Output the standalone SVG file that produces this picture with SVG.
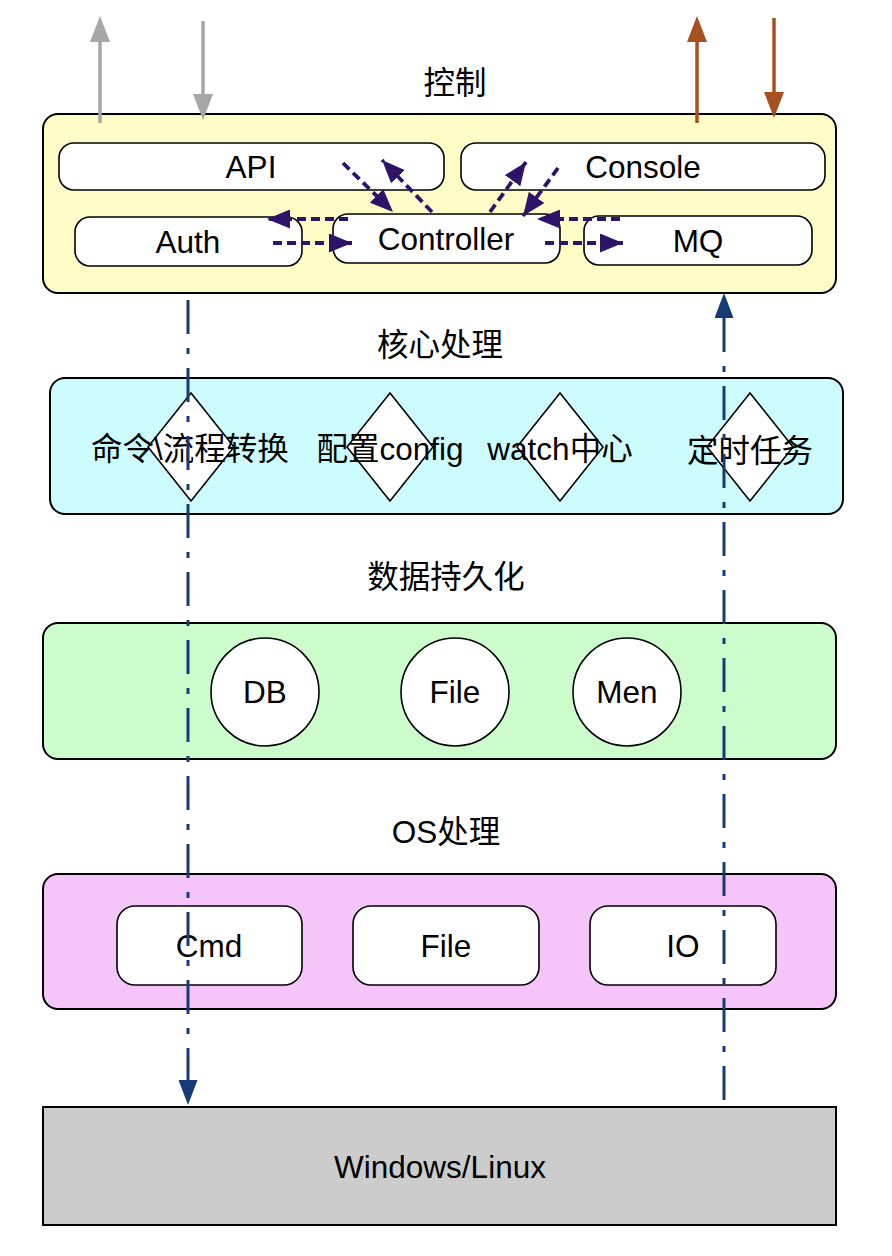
<svg xmlns="http://www.w3.org/2000/svg" width="892" height="1256" viewBox="0 0 892 1256">
<style>
text{font-family:"Liberation Sans","Noto Sans CJK SC",sans-serif;font-size:31.5px;fill:#000;text-anchor:middle}
.box{stroke:#000;stroke-width:2}
.node{fill:#fff;stroke:#000;stroke-width:1.6}
.pur{stroke:#2d1468;stroke-width:3.8;stroke-dasharray:9 5;fill:none}
.blue{stroke:#153a75;stroke-width:3;stroke-dasharray:34 14 6 14;fill:none}
</style>
<defs>
<marker id="mGray" markerUnits="userSpaceOnUse" markerWidth="26" markerHeight="20" refX="0" refY="10" orient="auto"><path d="M0,0 L26,10 L0,20 z" fill="#a6a6a6"/></marker>
<marker id="mBrown" markerUnits="userSpaceOnUse" markerWidth="26" markerHeight="20" refX="0" refY="10" orient="auto"><path d="M0,0 L26,10 L0,20 z" fill="#a8501f"/></marker>
<marker id="mPur" markerUnits="userSpaceOnUse" markerWidth="23" markerHeight="19" refX="23" refY="9.5" orient="auto"><path d="M0,0 L23,9.5 L0,19 z" fill="#2d1468"/></marker>
<marker id="mBlue" markerUnits="userSpaceOnUse" markerWidth="25" markerHeight="19" refX="0" refY="9.5" orient="auto"><path d="M0,0 L25,9.5 L0,19 z" fill="#153a75"/></marker>
</defs>

<g id="control">
<rect class="box" x="43" y="114" width="793" height="179" rx="15" fill="#fefcc7"/>
<text x="455" y="94">控制</text>
</g>
<g id="api"><rect class="node" x="59" y="143" width="385" height="47" rx="15"/><text x="251" y="178">API</text></g>
<g id="console"><rect class="node" x="461" y="143" width="364" height="47" rx="15"/><text x="643" y="178">Console</text></g>
<g id="auth"><rect class="node" x="75" y="217" width="227" height="49" rx="15"/><text x="188" y="253">Auth</text></g>
<g id="controller"><rect class="node" x="333" y="214" width="227" height="49" rx="15"/><text x="446" y="250">Controller</text></g>
<g id="mq"><rect class="node" x="584" y="216" width="228" height="49" rx="15"/><text x="698" y="252">MQ</text></g>

<g id="core">
<text x="440" y="356">核心处理</text>
<rect class="box" x="50" y="378" width="793" height="136" rx="15" fill="#ccfcfd"/>
</g>
<g id="d1"><path class="node" d="M191,393 L234,447 L191,501 L148,447 z"/><text x="190" y="460">命令\流程转换</text></g>
<g id="d2"><path class="node" d="M390,393 L433,447 L390,501 L347,447 z"/><text x="390" y="460">配置config</text></g>
<g id="d3"><path class="node" d="M560,393 L603,447 L560,501 L517,447 z"/><text x="560" y="460">watch中心</text></g>
<g id="d4"><path class="node" d="M750,393 L793,447 L750,501 L707,447 z"/><text x="750" y="462">定时任务</text></g>

<g id="persist">
<text x="446" y="588">数据持久化</text>
<rect class="box" x="43" y="623" width="793" height="136" rx="15" fill="#ccfccc"/>
</g>
<g id="db"><circle class="node" cx="265" cy="692" r="54"/><text x="265" y="703">DB</text></g>
<g id="pfile"><circle class="node" cx="455" cy="692" r="54"/><text x="455" y="703">File</text></g>
<g id="men"><circle class="node" cx="627" cy="692" r="54"/><text x="627" y="703">Men</text></g>

<g id="os">
<text x="446" y="843">OS处理</text>
<rect class="box" x="43" y="874" width="793" height="135" rx="15" fill="#f5c4f8"/>
</g>
<g id="cmd"><rect class="node" x="117" y="906" width="185" height="79" rx="18"/><text x="209" y="957">Cmd</text></g>
<g id="ofile"><rect class="node" x="353" y="906" width="186" height="79" rx="18"/><text x="446" y="957">File</text></g>
<g id="io"><rect class="node" x="590" y="906" width="186" height="79" rx="18"/><text x="683" y="957">IO</text></g>

<g id="platform">
<rect class="box" x="43" y="1107" width="793" height="118" fill="#cccccc"/>
<text x="440" y="1178">Windows/Linux</text>
</g>

<g id="connectors">
<line x1="100" y1="123" x2="100" y2="42" stroke="#a6a6a6" stroke-width="3.5" marker-end="url(#mGray)"/>
<line x1="203" y1="21" x2="203" y2="94" stroke="#a6a6a6" stroke-width="3.5" marker-end="url(#mGray)"/>
<line x1="697" y1="123" x2="697" y2="42" stroke="#a8501f" stroke-width="3.5" marker-end="url(#mBrown)"/>
<line x1="774" y1="18" x2="774" y2="92" stroke="#a8501f" stroke-width="3.5" marker-end="url(#mBrown)"/>

<line class="pur" x1="343" y1="163" x2="393" y2="212" marker-end="url(#mPur)"/>
<line class="pur" x1="432" y1="212" x2="382" y2="160" marker-end="url(#mPur)"/>
<line class="pur" x1="348" y1="219" x2="267" y2="219" marker-end="url(#mPur)"/>
<line class="pur" x1="273" y1="243" x2="352" y2="243" marker-end="url(#mPur)"/>
<line class="pur" x1="490" y1="212" x2="526" y2="162" marker-end="url(#mPur)"/>
<line class="pur" x1="558" y1="168" x2="523" y2="216" marker-end="url(#mPur)"/>
<line class="pur" x1="620" y1="219" x2="537" y2="219" marker-end="url(#mPur)"/>
<line class="pur" x1="545" y1="243" x2="623" y2="243" marker-end="url(#mPur)"/>

<line class="blue" x1="188" y1="300" x2="188" y2="1080" marker-end="url(#mBlue)"/>
<line class="blue" x1="724" y1="1100" x2="724" y2="318" marker-end="url(#mBlue)"/>
</g>
</svg>
